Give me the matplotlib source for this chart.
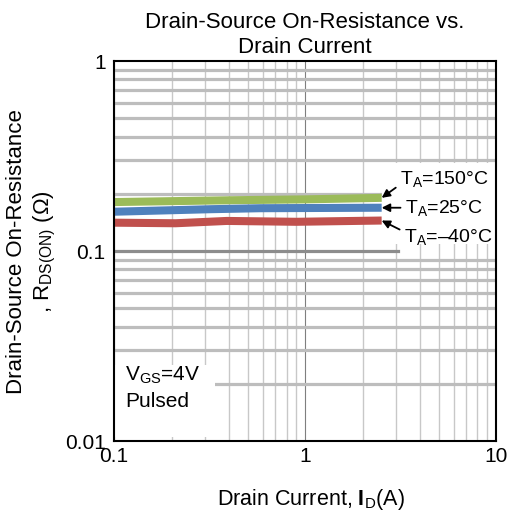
import numpy as np
import matplotlib
matplotlib.use('Agg')
import matplotlib.pyplot as plt
from matplotlib import ticker
from matplotlib.patches import Rectangle

plt.rcParams['font.family']      = ['Liberation Sans', 'DejaVu Sans']
plt.rcParams['mathtext.fontset'] = 'custom'
plt.rcParams['mathtext.rm']      = 'Liberation Sans'
plt.rcParams['mathtext.it']      = 'Liberation Sans:italic'
plt.rcParams['mathtext.bf']      = 'Liberation Sans:bold'

# data
id_150                          = [0.1, 0.4, 1.0, 2.52]
rds_150                         = [0.181, 0.185, 0.187, 0.1905]
id_25                           = [0.1, 0.32, 0.58, 2.52]
rds_25                          = [0.161, 0.166, 0.168, 0.169]
id_m40                          = [0.1, 0.21, 0.39, 0.9, 2.52]
rds_m40                         = [0.141, 0.140, 0.144, 0.1425, 0.1447]

series_labels                   = ['T$_\\mathrm{A}$=150°C', 'T$_\\mathrm{A}$=25°C', 'T$_\\mathrm{A}$=–40°C']
series_colors                   = ['#9bbb59', '#4f81bd', '#c0504d']

x_ticks                         = [0.1, 1, 10]
y_ticks                         = [0.01, 0.1, 1]

fig                             = plt.figure(figsize=(5.07, 5.18), dpi=100)
ax                              = fig.add_axes([0.2249, 0.1486, 0.7534, 0.7336])

ax.set_xscale('log')
ax.set_yscale('log')
ax.set_xlim(x_ticks[0], x_ticks[-1])
ax.set_ylim(y_ticks[0], y_ticks[-1])

ax.xaxis.set_major_locator(ticker.FixedLocator(x_ticks))
ax.yaxis.set_major_locator(ticker.FixedLocator(y_ticks))
ax.xaxis.set_major_formatter(ticker.FuncFormatter(lambda v, p: '%g' % v))
ax.yaxis.set_major_formatter(ticker.FuncFormatter(lambda v, p: '%g' % v))
ax.xaxis.set_minor_locator(ticker.LogLocator(base=10, subs=np.arange(2, 10)))
ax.yaxis.set_minor_locator(ticker.LogLocator(base=10, subs=np.arange(2, 10)))
ax.xaxis.set_minor_formatter(ticker.NullFormatter())
ax.yaxis.set_minor_formatter(ticker.NullFormatter())
ax.tick_params(which='both', length=0, labelsize=15)
ax.tick_params(axis='x', pad=4)
ax.tick_params(axis='y', pad=6)

# grid
ax.set_axisbelow(True)
ax.grid(which='minor', axis='x', color='#c8c8c8', lw=1.0)
ax.grid(which='major', axis='x', color='#7f7f7f', lw=0.8)
ax.grid(which='minor', axis='y', color='#bdbdbd', lw=2.3)
ax.axhline(y_ticks[1], xmax=0.743, color='#8c8c8c', lw=2.3, zorder=0.8)

for s in ax.spines.values():
    s.set_linewidth(1.5)

# white areas behind the labels
ax.add_patch(Rectangle((0.7016, 0.519), 0.30, 0.213, transform=ax.transAxes,
                       facecolor='white', edgecolor='none', zorder=1))
ax.add_patch(Rectangle((0.0, 0.01), 0.264, 0.19, transform=ax.transAxes,
                       facecolor='white', edgecolor='none', zorder=1))

xs                              = [id_150, id_25, id_m40]
ys                              = [rds_150, rds_25, rds_m40]
for i in range(3):
    ax.plot(xs[i], ys[i], color=series_colors[i], lw=5.8, solid_capstyle='butt', zorder=2)

offsets                         = [(18, 19), (23, 0), (22, -16)]
rels                            = [(0.0, 0.2), (0.0, 0.5), (0.0, 0.75)]
for i in range(3):
    ax.annotate(series_labels[i], xy=(xs[i][-1], ys[i][-1]), xytext=offsets[i],
                textcoords='offset pixels', ha='left', va='center', fontsize=14,
                arrowprops=dict(arrowstyle='-|>', color='black', lw=1.3,
                                shrinkA=1, shrinkB=0, relpos=rels[i],
                                mutation_scale=12), zorder=3)

ax.text(0.03, 0.14, 'V$_\\mathrm{GS}$=4V\nPulsed', transform=ax.transAxes,
        ha='left', va='center', fontsize=15, linespacing=1.45, zorder=3)

fig.text(305/507, 1-35/518, 'Drain-Source On-Resistance vs.\nDrain Current',
         ha='center', va='center', fontsize=16, linespacing=1.25)
fig.text(32/507, 1-252/518, 'Drain-Source On-Resistance\n, R$_\\mathrm{DS(ON)}$ ($\\Omega$)',
         ha='center', va='center', rotation=90, fontsize=16, linespacing=1.25,
         multialignment='center')
fig.text(311/507, 1-499/518, 'Drain Current, $\\mathbf{I}_\\mathrm{D}$(A)',
         ha='center', va='center', fontsize=15.5)

fig.savefig('out.png', dpi=100)
